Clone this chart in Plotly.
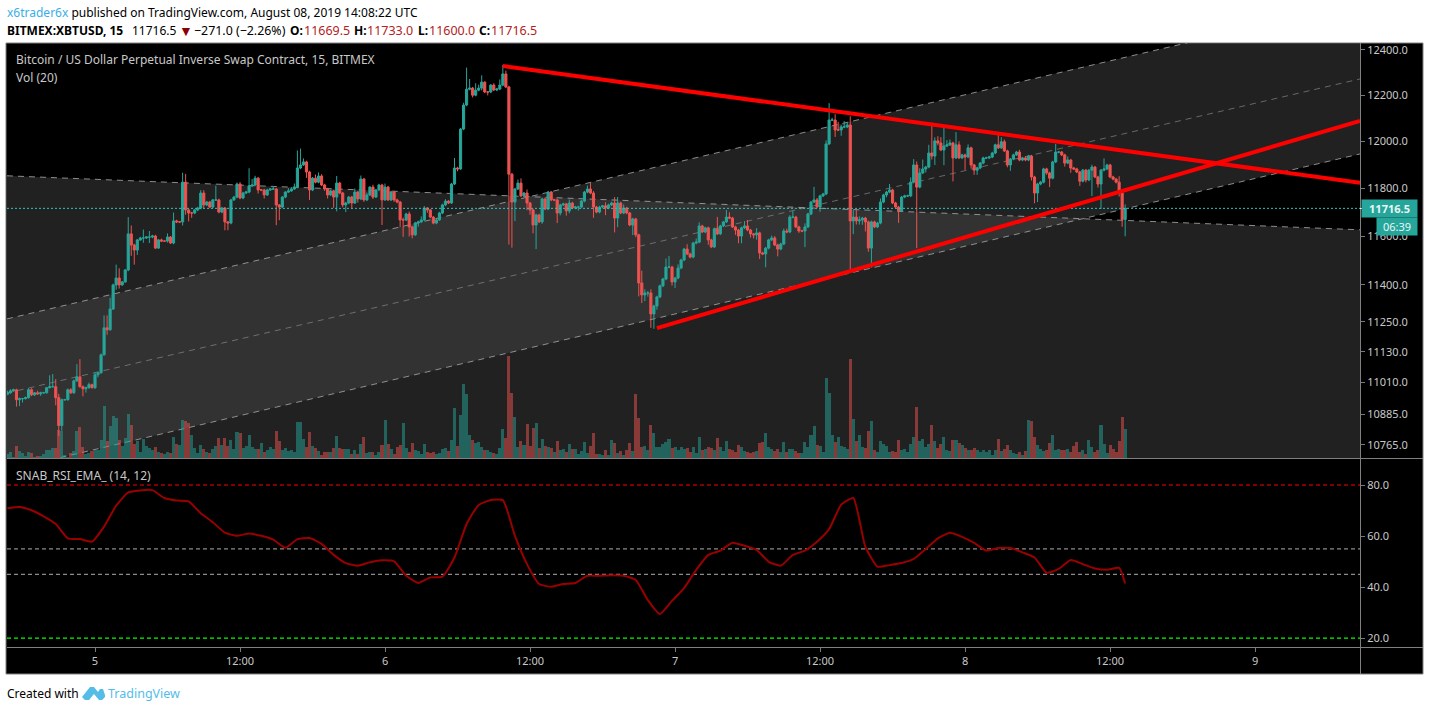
import math

import pandas as pd
import plotly.graph_objects as go

W, H = 1429, 711

# 15 minute candles, closes
closes = [
    10968, 10976, 10980, 10941, 10945, 10945, 10949, 10980, 10960, 10968,
    10964, 10968, 10968, 10988, 10992, 10992, 10949, 10840, 10941, 10941,
    10980, 10968, 11015, 11031, 10992, 10984, 10988, 11000, 10988, 11039,
    11047, 11118, 11226, 11218, 11302, 11400, 11428, 11400, 11412, 11461,
    11610, 11564, 11543, 11585, 11593, 11593, 11597, 11597, 11601, 11551,
    11585, 11580, 11580, 11597, 11572, 11664,
    11660, 11660, 11827, 11710, 11697, 11697, 11710, 11718, 11781, 11731,
    11743, 11722, 11752, 11752, 11701, 11718, 11660, 11655, 11752, 11764,
    11819, 11760, 11781, 11785, 11811, 11815, 11844, 11794, 11794, 11773,
    11794, 11798, 11798, 11731, 11722, 11764, 11785, 11790, 11798, 11806,
    11887, 11900, 11913, 11870, 11794, 11844, 11827, 11853, 11815, 11798,
    11773, 11790, 11764, 11823, 11781, 11731, 11739, 11764, 11739, 11785,
    11756, 11840, 11752, 11773, 11806, 11764, 11794, 11815, 11752, 11806,
    11752, 11785, 11752, 11743, 11668, 11668, 11693, 11639, 11606, 11655,
    11660, 11668, 11718, 11710, 11680, 11655, 11668, 11697, 11731, 11747,
    11739, 11819, 11887, 11883, 12054, 12158, 12227, 12232, 12201, 12223,
    12232,
    12258, 12215, 12215, 12245, 12224, 12228, 12245, 12294, 12237, 11861,
    11743, 11798, 11823, 11769, 11781, 11739, 11710, 11647, 11689, 11660,
    11756, 11714, 11785, 11752, 11752, 11697, 11731, 11735, 11706, 11739,
    11718, 11722, 11722, 11747, 11785, 11798, 11781, 11722, 11701, 11722,
    11727, 11718, 11731, 11739, 11676, 11739, 11697, 11718, 11697, 11647,
    11672, 11606, 11408, 11359, 11367, 11367, 11282, 11314, 11351, 11396,
    11424, 11473, 11473, 11412, 11428, 11469, 11502, 11547, 11527, 11514,
    11572, 11576, 11643, 11618, 11635, 11585, 11556, 11631, 11610, 11643,
    11660, 11680, 11676, 11639, 11626, 11601, 11635, 11643, 11626, 11610,
    11606, 11614, 11531, 11527, 11551, 11585, 11593, 11564, 11547, 11568,
    11622, 11618, 11680, 11680, 11639, 11622, 11622, 11639, 11693, 11743,
    11752, 11722, 11769, 11777, 11990, 12093, 12093, 12050, 12050, 12063,
    12063, 12071, 11664,
    11680, 11664, 11668, 11676, 11660, 11551, 11660, 11639, 11655, 11743,
    11773, 11785, 11794, 11739, 11722, 11706, 11764, 11769, 11769, 11827,
    11900, 11806, 11866, 11883, 11891, 11951, 11938, 12003, 11994, 11964,
    11981, 11986, 11994, 11930, 11986, 11930, 11943, 11934, 11973, 11900,
    11878, 11887, 11908, 11930, 11930, 11934, 11951, 11986, 11973, 11999,
    11960, 11900, 11925, 11943, 11955, 11921, 11930, 11921, 11938, 11849,
    11781, 11819, 11827, 11883, 11866, 11844, 11913, 11955, 11955, 11943,
    11908, 11921, 11887, 11883, 11870, 11831, 11878, 11836, 11878, 11891,
    11849, 11819, 11878, 11883, 11900, 11849, 11840, 11827, 11781, 11669.5,
    11716.5,
]

# wick lengths in dollars above / below the body
wick_up = [
    8, 6, 4, 4, 4, 3, 4, 6, 6, 3,
    8, 4, 4, 3, 45, 50, 30, 15, 4, 3,
    5, 6, 5, 50, 70, 5, 4, 8, 4, 10,
    4, 5, 50, 50, 45, 5, 55, 40, 4, 4,
    70, 35, 5, 4, 5, 35, 4, 25, 5, 5,
    4, 5, 3, 15, 4, 35,
    5, 4, 40, 35, 5, 5, 4, 5, 12, 12,
    5, 5, 4, 60, 5, 5, 4, 4, 5, 5,
    6, 8, 5, 5, 75, 25, 10, 5, 4, 5,
    5, 3, 10, 4, 4, 4, 4, 12, 8, 15,
    75, 70, 15, 5, 5, 5, 15, 15, 8, 5,
    5, 5, 4, 30, 5, 5, 5, 5, 5, 15,
    5, 15, 5, 10, 4, 10, 5, 5, 5, 15,
    5, 5, 5, 5, 5, 10, 5, 10, 5, 5,
    5, 15, 8, 4, 4, 4, 5, 5, 5, 8,
    4, 5, 43, 5, 5, 10, 95, 40, 5, 30,
    15,
    30, 4, 4, 4, 8, 5, 25, 40, 15, 5,
    5, 5, 15, 20, 5, 15, 5, 5, 5, 5,
    5, 5, 5, 5, 4, 5, 5, 5, 5, 15,
    5, 5, 5, 5, 5, 15, 25, 8, 5, 5,
    4, 15, 5, 5, 25, 25, 5, 15, 5, 5,
    5, 5, 5, 50, 15, 8, 15, 5, 5, 5,
    5, 35, 45, 5, 5, 15, 5, 5, 20, 5,
    5, 15, 15, 5, 5, 5, 5, 5, 50, 5,
    4, 30, 20, 5, 5, 5, 5, 20, 25, 5,
    4, 20, 5, 5, 5, 5, 10, 8, 5, 5,
    10, 10, 8, 25, 5, 5, 5, 15, 5, 5,
    55, 8, 5, 5, 15, 73, 10, 25, 35, 8,
    25, 10, 38,
    30, 30, 15, 5, 5, 5, 5, 5, 5, 15,
    5, 5, 25, 5, 5, 5, 5, 5, 5, 20,
    25, 15, 20, 40, 5, 35, 130, 15, 20, 25,
    80, 20, 15, 5, 55, 15, 5, 5, 15, 5,
    5, 5, 5, 5, 5, 5, 5, 5, 45, 20,
    10, 5, 5, 5, 5, 10, 5, 8, 5, 5,
    5, 5, 5, 5, 5, 5, 5, 35, 5, 5,
    5, 15, 5, 5, 5, 5, 5, 5, 5, 10,
    5, 5, 5, 45, 5, 5, 5, 5, 25, 5,
    16.5,
]
wick_dn = [
    3, 4, 4, 27, 25, 15, 3, 4, 5, 4,
    4, 8, 3, 3, 3, 3, 30, 40, 20, 4,
    4, 4, 4, 4, 4, 30, 15, 4, 3, 5,
    10, 4, 3, 20, 3, 4, 20, 15, 4, 3,
    5, 45, 60, 20, 4, 20, 4, 25, 5, 4,
    3, 4, 3, 6, 4, 5,
    5, 5, 15, 20, 35, 20, 5, 5, 5, 15,
    5, 5, 5, 4, 5, 5, 35, 30, 5, 4,
    5, 5, 5, 4, 5, 5, 5, 15, 5, 15,
    4, 4, 4, 85, 55, 5, 5, 4, 4, 4,
    5, 5, 4, 25, 42, 5, 5, 5, 5, 8,
    15, 4, 45, 60, 5, 10, 30, 5, 25, 4,
    15, 5, 8, 5, 4, 8, 4, 5, 105, 4,
    5, 5, 8, 5, 30, 70, 5, 40, 15, 5,
    15, 5, 5, 12, 5, 5, 5, 4, 5, 5,
    4, 4, 4, 10, 4, 5, 5, 5, 10, 5,
    5,
    10, 5, 15, 5, 5, 5, 5, 5, 5, 295,
    190, 80, 5, 5, 5, 30, 20, 35, 100, 5,
    8, 5, 5, 5, 5, 42, 10, 5, 20, 10,
    5, 5, 15, 5, 5, 5, 5, 45, 5, 5,
    5, 30, 5, 5, 60, 38, 5, 5, 5, 5,
    42, 10, 55, 33, 25, 15, 56, 60, 15, 5,
    5, 5, 5, 15, 25, 5, 5, 5, 5, 5,
    5, 5, 5, 5, 5, 20, 5, 5, 5, 5,
    5, 5, 5, 5, 20, 30, 30, 5, 5, 15,
    15, 20, 25, 5, 55, 5, 5, 5, 30, 5,
    5, 5, 5, 5, 5, 8, 5, 67, 5, 5,
    5, 5, 20, 5, 5, 5, 5, 30, 5, 25,
    5, 5, 200,
    55, 15, 15, 20, 40, 15, 80, 5, 5, 5,
    5, 10, 5, 5, 5, 50, 5, 5, 5, 5,
    5, 255, 5, 5, 15, 5, 15, 38, 10, 5,
    65, 5, 5, 100, 5, 5, 5, 55, 5, 15,
    20, 20, 5, 5, 5, 5, 5, 5, 5, 5,
    5, 10, 25, 5, 5, 5, 5, 5, 5, 15,
    43, 38, 5, 5, 8, 38, 5, 5, 5, 5,
    15, 5, 20, 5, 5, 20, 5, 10, 5, 110,
    5, 15, 105, 5, 5, 5, 5, 5, 15, 30,
    69.5,
]

# volume pane has no scale on the picture, so these are relative bar heights
volumes = [
    4, 6, 1, 12, 7, 5, 2, 6, 5, 1,
    2, 2, 4, 8, 8, 10, 10, 28, 27, 3,
    1, 5, 7, 27, 31, 11, 4, 5, 7, 8,
    8, 18, 52, 17, 32, 42, 40, 18, 12, 20,
    44, 33, 14, 17, 6, 19, 12, 10, 8, 11,
    6, 5, 4, 6, 5, 21,
    14, 13, 38, 37, 35, 23, 10, 5, 13, 9,
    6, 5, 9, 12, 20, 13, 20, 12, 18, 9,
    26, 25, 10, 12, 23, 11, 9, 9, 15, 6,
    8, 11, 9, 27, 17, 8, 10, 7, 8, 6,
    36, 36, 19, 11, 26, 12, 10, 7, 3, 6,
    6, 6, 10, 22, 10, 9, 9, 9, 4, 8,
    4, 14, 21, 5, 6, 6, 3, 6, 13, 38,
    14, 9, 4, 11, 13, 35, 10, 6, 15, 8,
    7, 4, 14, 6, 5, 6, 4, 5, 9, 10,
    7, 18, 50, 12, 43, 74, 64, 23, 18, 15,
    16,
    11, 8, 8, 6, 5, 4, 10, 29, 20, 102,
    65, 41, 11, 17, 13, 34, 12, 30, 35, 10,
    19, 12, 11, 10, 6, 17, 8, 9, 6, 14,
    9, 9, 4, 7, 16, 5, 12, 25, 4, 4,
    3, 8, 3, 18, 15, 5, 7, 3, 8, 15,
    7, 64, 40, 11, 12, 8, 33, 25, 11, 11,
    14, 16, 19, 10, 11, 8, 11, 9, 10, 6,
    11, 5, 21, 8, 9, 11, 10, 8, 20, 11,
    7, 17, 9, 8, 6, 13, 11, 7, 6, 5,
    6, 7, 15, 16, 25, 11, 9, 7, 9, 6,
    16, 6, 9, 9, 7, 5, 5,
    16, 11, 23, 32, 13, 12, 6, 80, 65, 23,
    16, 21, 12, 11, 9, 99, 39, 17, 23, 11,
    10, 27, 37, 8, 6, 17, 14, 12, 6, 7,
    6, 18, 8, 9, 6, 14, 21, 51, 17, 19,
    11, 14, 33, 17, 10, 14, 21, 8, 7, 18,
    18, 15, 13, 10, 8, 8, 10, 8, 6, 8,
    6, 8, 3, 8, 19, 7, 9, 13, 8, 5,
    4, 6, 3, 7, 38, 37, 21, 13, 9, 7,
    8, 15, 23, 8, 9, 8, 8, 9, 6, 12,
    16, 6, 8, 4, 18, 11, 6, 8, 33, 14,
    5, 13, 9, 6, 17, 41, 29,
]

# one reading per hour, last one on the live bar
rsi = [
    70.9, 71.4, 70.1, 67.7, 64.7, 59.1, 58.8, 57.8, 63.7, 71.9,
    77.1, 77.9, 78.0, 74.9, 73.9, 73.6, 68.9, 65.4, 61.3, 60.1,
    61.0, 60.1, 58.6, 55.4, 58.8, 59.2, 56.9, 52.6, 49.4, 48.4,
    49.7, 50.5, 50.1, 44.4, 41.6, 43.8, 44.1, 51.6, 64.7, 72.2,
    74.1, 74.1, 60.1, 49.0, 41.2, 40.1, 41.2, 41.6, 44.4, 44.4,
    44.6, 44.4, 42.8, 34.9, 29.4, 34.6, 39.6, 46.7, 52.6, 54.3,
    57.4, 56.2, 54.6, 49.9, 48.4, 52.6, 54.3, 57.8, 62.7, 72.3,
    74.9, 55.8, 48.0, 48.6, 49.4, 51.0, 54.9, 59.1, 61.3, 59.7,
    57.3, 54.3, 55.3, 55.3, 53.6, 51.6, 45.6, 47.1, 50.6, 49.0,
    47.3, 46.8, 47.5, 41.4,
]

price_ticks = [12400, 12200, 12000, 11800, 11600, 11400, 11250, 11130, 11010, 10885, 10765]
rsi_ticks = [80, 60, 40, 20]
time_ticks = ["2019-08-05 00:00", "2019-08-05 12:00", "2019-08-06 00:00", "2019-08-06 12:00",
              "2019-08-07 00:00", "2019-08-07 12:00", "2019-08-08 00:00", "2019-08-08 12:00",
              "2019-08-09 00:00"]
time_labels = ["5", "12:00", "6", "12:00", "7", "12:00", "8", "12:00", "9"]

view_start = "2019-08-04 16:43"
view_end = "2019-08-09 08:41"
price_range = [math.log10(10715), math.log10(12431)]

# drawings on the chart: [left, right] prices
up_channel_top = [11262, 12613]
up_channel_mid = [10967, 12272]
up_channel_low = [10669, 11947]
down_channel_top = [11854, 11627]
down_channel_floor = [10000, 10000]
fall_line_t = ["2019-08-06 09:45", view_end]
fall_line_p = [12329, 11824]
rise_line_t = ["2019-08-06 22:30", view_end]
rise_line_p = [11225, 12089]

times = pd.date_range(end="2019-08-08 13:15", periods=len(closes), freq="15min")
opens = [10962] + closes[:-1]
highs = [max(o, c) + u for o, c, u in zip(opens, closes, wick_up, strict=True)]
lows = [min(o, c) - d for o, c, d in zip(opens, closes, wick_dn, strict=True)]
vol_cols = ["rgba(38,166,154,0.5)" if c >= o else "rgba(239,83,80,0.5)" for o, c in zip(opens, closes)]
rsi_times = list(times[::4]) + [times[-1]]

GREEN = "#26a69a"
RED = "#ef5350"
BAND = "rgba(68,68,68,0.485)"
EDGE = "rgba(170,170,170,0.8)"
AX = "#787878"
TXT = "#c8c8c8"
FONT = "Noto Sans"


def px_x(p):
    return p / W


def px_y(p):
    return 1 - p / H


fig = go.Figure()
ends = [view_start, view_end]

# channel bands sit at the very bottom
fig.add_trace(go.Scatter(x=ends + ends[::-1], y=down_channel_top + down_channel_floor[::-1], fill="toself",
                         fillcolor=BAND, mode="lines", line=dict(width=0), yaxis="y"))
fig.add_trace(go.Scatter(x=ends + ends[::-1], y=up_channel_top + up_channel_low[::-1], fill="toself",
                         fillcolor=BAND, mode="lines", line=dict(width=0), yaxis="y"))
for vals, col in [(down_channel_top, EDGE), (up_channel_top, EDGE), (up_channel_low, EDGE),
                  (up_channel_mid, "rgba(150,150,150,0.6)")]:
    fig.add_trace(go.Scatter(x=ends, y=vals, mode="lines", yaxis="y",
                             line=dict(color=col, width=1, dash="6px,5px")))

fig.add_trace(go.Bar(x=times, y=volumes, width=15 * 60 * 1000, marker=dict(color=vol_cols, line=dict(width=0)),
                     yaxis="y2"))

fig.add_trace(go.Candlestick(x=times, open=opens, high=highs, low=lows, close=closes, yaxis="y3",
                             increasing=dict(line=dict(color=GREEN, width=1), fillcolor=GREEN),
                             decreasing=dict(line=dict(color=RED, width=1), fillcolor=RED),
                             whiskerwidth=0))
fig.add_trace(go.Scatter(x=ends, y=[closes[-1], closes[-1]], mode="lines", yaxis="y3",
                         line=dict(color="#2bc4bc", width=1, dash="2px,2px")))
fig.add_trace(go.Scatter(x=fall_line_t, y=fall_line_p, mode="lines", yaxis="y3",
                         line=dict(color="#ff0000", width=4)))
fig.add_trace(go.Scatter(x=rise_line_t, y=rise_line_p, mode="lines", yaxis="y3",
                         line=dict(color="#ff0000", width=4)))

# rsi pane
for level, col in [(80, "#ff0000"), (55, "#8a8a8a"), (45, "#8a8a8a"), (20, "#00ff00")]:
    fig.add_trace(go.Scatter(x=ends, y=[level, level], mode="lines", yaxis="y4",
                             line=dict(color=col, width=1.2, dash="4px,3px")))
fig.add_trace(go.Scatter(x=rsi_times, y=rsi, mode="lines", yaxis="y4",
                         line=dict(color="#990000", width=2, shape="spline", smoothing=0.5)))

hidden = dict(visible=False, domain=[px_y(458), px_y(43)], overlaying="y", anchor="x")
fig.update_layout(
    width=W, height=H,
    margin=dict(l=0, r=0, t=0, b=0),
    paper_bgcolor="#ffffff",
    plot_bgcolor="#000000",
    showlegend=False,
    hovermode=False,
    bargap=0,
    boxgap=0,
    font=dict(family=FONT, size=12, color=TXT),
    xaxis=dict(
        domain=[px_x(7), px_x(1360)], range=[view_start, view_end], anchor="y4", type="date",
        tickmode="array", tickvals=time_ticks, ticktext=time_labels, ticks="outside", ticklen=4,
        tickcolor=AX, showgrid=False, zeroline=False, showline=False, rangeslider=dict(visible=False),
        tickfont=dict(family=FONT, size=11, color=TXT),
    ),
    yaxis=dict(
        domain=[px_y(458), px_y(43)], type="log", range=price_range,
        side="right", anchor="x", tickmode="array", tickvals=price_ticks,
        ticktext=[f"{v}.0" for v in price_ticks], ticks="outside", ticklen=4, tickcolor=AX,
        showgrid=False, zeroline=False, showline=False, tickfont=dict(family=FONT, size=11, color=TXT),
    ),
    yaxis2=dict(range=[0, 415], **hidden),
    yaxis3=dict(type="log", range=price_range, **hidden),
    yaxis4=dict(
        domain=[px_y(647), px_y(459)], range=[16.5, 90.2], side="right", anchor="x", tickmode="array",
        tickvals=rsi_ticks, ticktext=[f"{v}.0" for v in rsi_ticks], ticks="outside", ticklen=4, tickcolor=AX,
        showgrid=False, zeroline=False, showline=False, tickfont=dict(family=FONT, size=11, color=TXT),
    ),
)


def rect(x0, y0, x1, y1, layer="below", **kw):
    fig.add_shape(type="rect", xref="paper", yref="paper", x0=px_x(x0), x1=px_x(x1), y0=px_y(y0), y1=px_y(y1),
                  layer=layer, **kw)


def rule(x0, y0, x1, y1, col=AX, width=1):
    fig.add_shape(type="line", xref="paper", yref="paper", x0=px_x(x0), x1=px_x(x1), y0=px_y(y0), y1=px_y(y1),
                  layer="above", line=dict(color=col, width=width))


rect(6, 43, 1423, 674, fillcolor="#000000", line=dict(color="#808080", width=1))
rule(7, 458.5, 1423, 458.5, "#808080", 1)
rule(7, 647.5, 1423, 647.5, "#808080", 1)
rule(1360.5, 43, 1360.5, 674, "#808080", 1)
rule(1360, 208.5, 1366, 208.5, "#ffffff", 1)

# TradingView logo mark
logo = [(82, 697), (90, 687), (94, 687), (98, 692), (100, 689), (103, 689), (105, 695), (105, 697),
        (102, 700), (99, 700), (94, 694), (89, 700), (85, 700)]
fig.add_shape(type="path", xref="paper", yref="paper", layer="above", fillcolor="#53bde8", line=dict(width=0),
              path="M " + " L ".join(f"{px_x(a)} {px_y(b)}" for a, b in logo) + " Z")


def label(x, y, text, size=12, color="#000000", anchor="left", **kw):
    fig.add_annotation(xref="paper", yref="paper", x=px_x(x), y=px_y(y), text=text, showarrow=False,
                       xanchor=anchor, yanchor="middle", align="left", borderpad=0,
                       font=dict(family=FONT, size=size, color=color), **kw)


DK = "#b22222"
label(6, 13, '<span style="color:#39aee8">x6trader6x</span> published on TradingView.com, August 08, 2019 14:08:22 UTC')
label(6, 30, "<b>BITMEX:XBTUSD, 15</b>")
label(131, 30, "11716.5")
label(178, 30, "▼", size=14, color="#8b0000")
label(193, 30, "−271.0 (−2.26%)", size=12.4)
for x, tag in [(289, "O:"), (353, "H:"), (417, "L:"), (478, "C:")]:
    label(x, 30, f"<b>{tag}</b>")
for x, val in [(303, "11669.5"), (366, "11733.0"), (428, "11600.0"), (490, "11716.5")]:
    label(x, 30, val, size=12.5, color=DK)
label(15, 60, "Bitcoin / US Dollar Perpetual Inverse Swap Contract, 15, BITMEX", color=TXT)
label(15, 77, "Vol (20)", color=TXT)
label(15, 475, "SNAB_RSI_EMA_ (14, 12)", color=TXT)
label(6, 693, "Created with", size=12)
label(107, 693, "TradingView", size=12.5, color="#53bde8")

fig.add_annotation(xref="paper", yref="paper", x=px_x(1361), y=px_y(208.5), xanchor="left", yanchor="middle",
                   text="<b>11716.5</b>", showarrow=False, bgcolor=GREEN, width=55, height=17, borderpad=0,
                   font=dict(family=FONT, size=11, color="#e8f6f5"))
fig.add_annotation(xref="paper", yref="paper", x=px_x(1376), y=px_y(226.5), xanchor="left", yanchor="middle",
                   text="06:39", showarrow=False, bgcolor=GREEN, width=40, height=17, borderpad=0,
                   font=dict(family=FONT, size=11, color="#e8f6f5"))

fig.write_html("out.html", config=dict(displayModeBar=False),
               post_script="document.body.style.margin='0';document.body.style.overflow='hidden';")
